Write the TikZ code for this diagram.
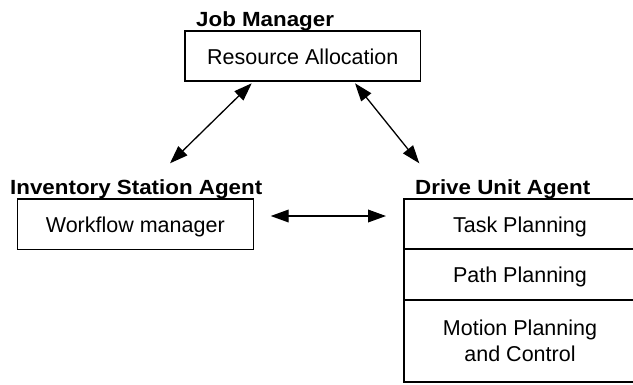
\documentclass[tikz,border=0pt]{standalone}
\usepackage{fontspec}
\setmainfont{Liberation Sans}
\newfontfamily\hdrfont[FakeStretch=1.09]{Liberation Sans}
\usetikzlibrary{arrows.meta}
\begin{document}
\begin{tikzpicture}[x=1pt,y=-1pt,
  txt/.style={font=\fontsize{21.5}{25.7}\selectfont},
  hdr/.style={font=\hdrfont\fontsize{20.5}{25.7}\selectfont\bfseries,inner sep=0pt,anchor=base west},
  boxnode/.style={draw,line width=1.3pt,inner sep=0pt,txt,text height=16.2pt,text depth=0pt},
  arr/.style={line width=1.3pt,{Triangle[length=18pt,width=12.7pt]}-{Triangle[length=18pt,width=12.7pt]}}]
\useasboundingbox (0,0) rectangle (633,384);
\clip (0,0) rectangle (633,384);
% Job manager
\node[hdr] (jmlabel) at (196,26) {Job Manager};
\node[boxnode,minimum width=235.7pt,minimum height=50pt] (job) at (302.8,56) {Resource Allocation};
% Inventory station
\node[hdr] (islabel) at (10,194.3) {Inventory Station Agent};
\node[boxnode,minimum width=236pt,minimum height=50.3pt] (inv) at (135.3,224.1) {Workflow manager};
% Drive unit
\node[hdr] (dulabel) at (415,194.3) {Drive Unit Agent};
\node[boxnode,minimum width=232pt,minimum height=50pt] (task) at (520,224) {Task Planning};
\node[boxnode,minimum width=232pt,minimum height=51pt] (path) at (520,274.5) {Path Planning};
\node[draw,line width=1.3pt,minimum width=232pt,minimum height=82pt,inner sep=0pt] (motion) at (520,341) {};
\node[txt,align=center,inner sep=0pt] (motiontxt) at (motion.center) {Motion Planning\\and Control};
% connectors
\coordinate (a1s) at (170,163.3);
\coordinate (a1e) at (251.7,83.3);
\coordinate (a2s) at (355,83.3);
\coordinate (a2e) at (419.3,163.3);
\coordinate (a3s) at (270.7,216);
\coordinate (a3e) at (386,216);
\draw[arr] (a1s) -- (a1e);
\draw[arr] (a2s) -- (a2e);
\draw[arr] (a3s) -- (a3e);
\end{tikzpicture}
\end{document}
